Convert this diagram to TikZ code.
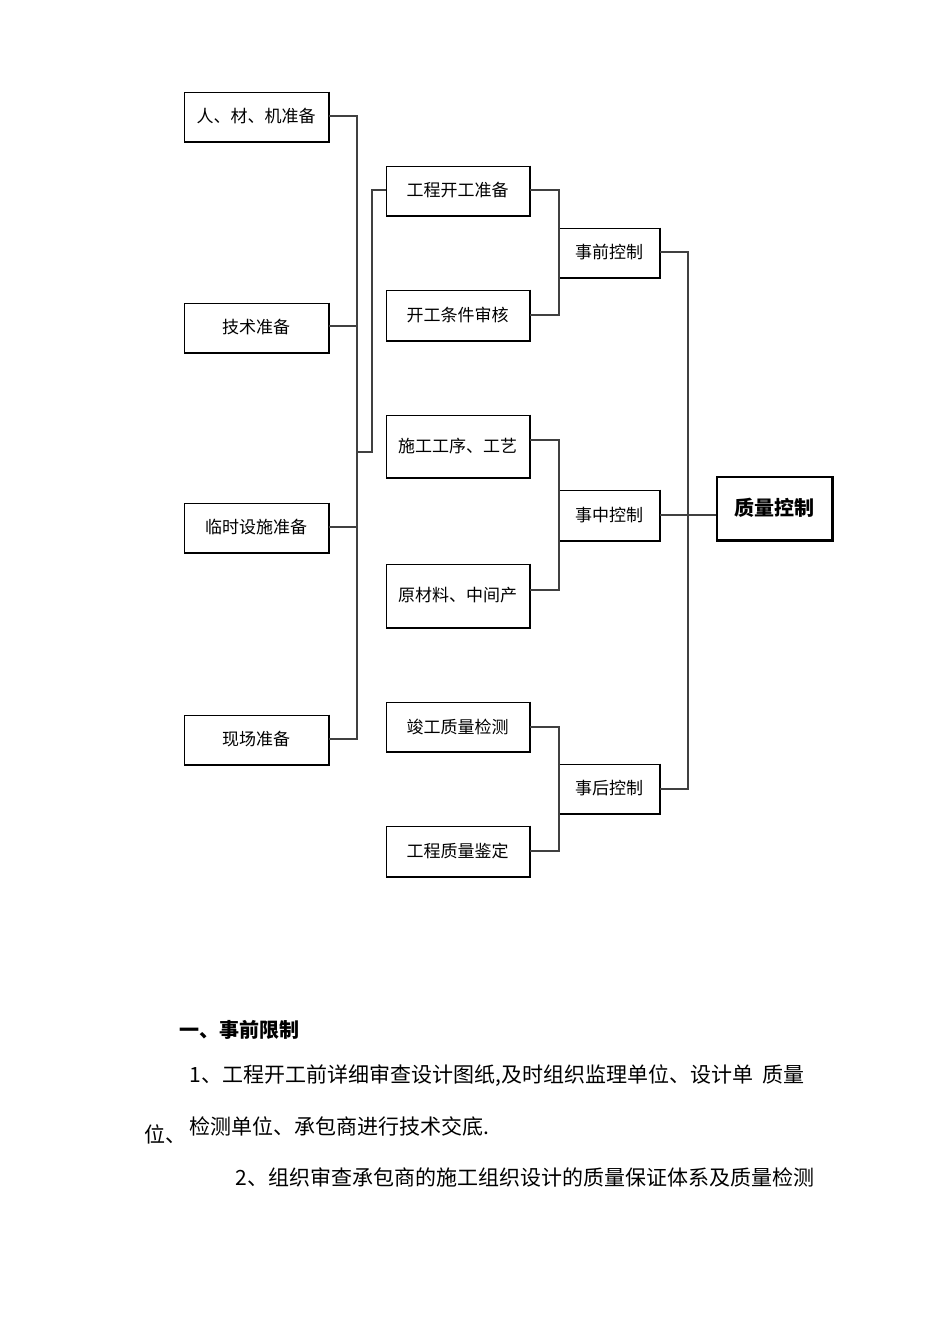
\documentclass[tikz,border=0pt]{standalone}
\usepackage{fontspec}
\setmainfont{Noto Sans CJK SC}
\begin{document}
\begin{tikzpicture}[x=1pt,y=-1pt,
 bx/.style={draw,line width=1pt,inner sep=0,font=\fontsize{17}{17}\selectfont},
 ln/.style={line width=1.2pt,draw=black!75}]
\useasboundingbox (0,0) rectangle (950,1344);
\newcommand{\bxn}[6]{\node[bx,minimum width=#4-#2,minimum height=#5-#3] (#1) at ({(#2+#4)/2},{(#3+#5)/2}) {\raisebox{-4pt}{#6}};
 \draw[line width=2pt] (#1.north east)--(#1.south east)--(#1.south west);}
\bxn{a1}{184}{92}{328}{141}{人、材、机准备}
\bxn{a2}{184}{303}{328}{352}{技术准备}
\bxn{a3}{184}{503}{328}{552}{临时设施准备}
\bxn{a4}{184}{715}{328}{764}{现场准备}
\bxn{b1}{386}{166}{529}{215}{工程开工准备}
\bxn{b2}{386}{290}{529}{340}{开工条件审核}
\bxn{b3}{386}{415}{529}{477}{施工工序、工艺}
\bxn{b4}{386}{564}{529}{627}{原材料、中间产}
\bxn{b5}{386}{702}{529}{751}{竣工质量检测}
\bxn{b6}{386}{826}{529}{876}{工程质量鉴定}
\bxn{c1}{559}{228}{659}{277}{事前控制}
\bxn{c2}{559}{490}{659}{540}{事中控制}
\bxn{c3}{559}{764}{659}{813}{事后控制}
\node[bx,line width=1.5pt,minimum width=115,minimum height=63,font=\fontsize{20}{20}\selectfont\bfseries] (q) at (774.5,508.5) {\raisebox{3pt}{质量控制}};
\draw[line width=2.5pt] (q.north east)--(q.south east)--(q.south west);
\coordinate (j1) at (357,452);
\draw[ln] (a1.east|-0,116) -| (357,739) -- (a4.east|-0,739);
\draw[ln] (a2.east|-0,326) -- (357,326);
\draw[ln] (a3.east|-0,527) -- (357,527);
\draw[ln] (j1) -- (372,452) |- (b1.west|-0,190);
\draw[ln] (b1.east|-0,190) -| (559,315) -- (b2.east|-0,315);
\draw[ln] (b3.east|-0,440) -| (559,590) -- (b4.east|-0,590);
\draw[ln] (b5.east|-0,727) -| (559,851) -- (b6.east|-0,851);
\draw[ln] (c1.east|-0,252) -| (688,789) -- (c3.east|-0,789);
\draw[ln] (c2.east|-0,515) -- (q.west|-0,515);
\begin{scope}[font=\fontsize{21}{21}\selectfont]
\node[anchor=west,font=\fontsize{20}{20}\selectfont\bfseries] (t0) at (176,1030) {一、事前限制};
\node[anchor=west] (t1) at (186,1076) {1、工程开工前详细审查设计图纸,及时组织监理单位、设计单\ \ 质量};
\node[anchor=west] (t2) at (186,1126) {检测单位、承包商进行技术交底.};
\node[anchor=west] (t3) at (141,1134) {位、};
\node[anchor=west] (t4) at (232,1177) {2、组织审查承包商的施工组织设计的质量保证体系及质量检测};
\end{scope}
\end{tikzpicture}
\end{document}
